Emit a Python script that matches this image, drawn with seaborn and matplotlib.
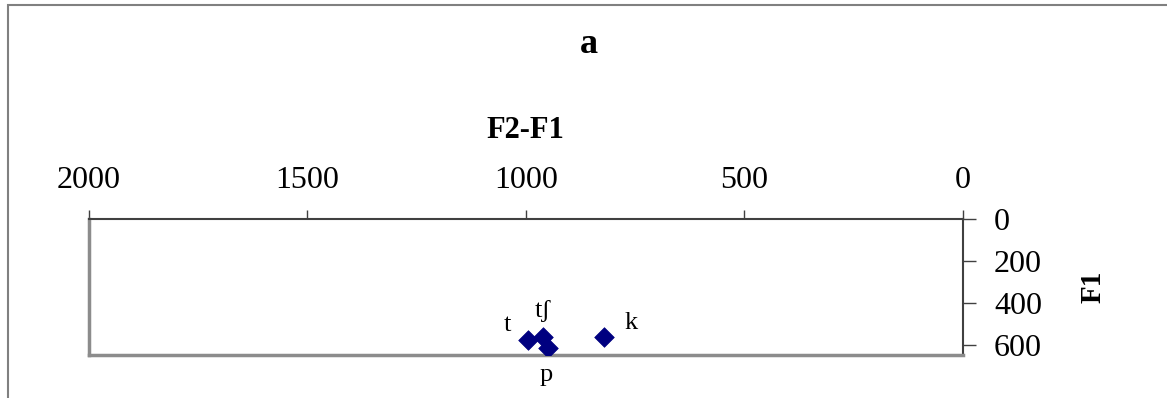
import matplotlib
matplotlib.use("Agg")
import matplotlib.pyplot as plt
import seaborn as sns
import pandas as pd
from matplotlib.patches import Rectangle

# dados (consoantes, F2-F1 e F1 em Hz)
consoantes = ["t", "tʃ", "p", "k"]
f2_f1 = [995, 960, 950, 820]
f1 = [580, 565, 618, 565]

df = pd.DataFrame({"F2-F1": f2_f1, "F1": f1, "cons": consoantes})

sns.set_style("white")
plt.rcParams["font.family"] = ["Liberation Serif", "DejaVu Serif"]
plt.rcParams["text.color"] = "black"
plt.rcParams["axes.labelcolor"] = "black"

fig = plt.figure(figsize=(11.67, 3.98), dpi=100)
ax = fig.add_axes([89 / 1167, 1 - 355 / 398, (962.7 - 89) / 1167, (355 - 219.3) / 398])

sns.scatterplot(data=df, x="F2-F1", y="F1", marker="D", s=100, color="#000080",
                edgecolor="#000080", linewidth=0.5, ax=ax, legend=False, zorder=5)

# rótulos dos pontos
desloc = {"t": (-15, 11), "tʃ": (0, 19), "p": (-1, -19), "k": (19, 10)}
for c, x, y in zip(df["cons"], df["F2-F1"], df["F1"]):
    ax.annotate(c, (x, y), xytext=desloc[c], textcoords="offset points",
                ha="center", va="center", fontsize=19, color="black")

ax.set_xlim(2000, 0)
ax.set_ylim(650, 0)
ax.set_xticks([2000, 1500, 1000, 500, 0])
ax.set_yticks([0, 200, 400, 600])

# eixo x em cima, eixo y à direita
ax.xaxis.tick_top()
ax.yaxis.tick_right()
ax.tick_params(axis="x", direction="out", length=6.5, width=1, color="#404040",
               pad=11, labelsize=23, labelcolor="black", top=True, bottom=False)
ax.tick_params(axis="y", direction="out", length=9.5, width=1, color="#404040",
               pad=13, labelsize=23, labelcolor="black", right=True, left=False)

for lado in ["top", "right"]:
    ax.spines[lado].set_color("#404040")
    ax.spines[lado].set_linewidth(1.5)
for lado in ["left", "bottom"]:
    ax.spines[lado].set_color("#8c8c8c")
    ax.spines[lado].set_linewidth(2.5)

ax.xaxis.set_label_position("top")
ax.set_xlabel("F2-F1", fontsize=22, fontweight="bold")
ax.xaxis.set_label_coords(0.5, (355 - 138) / (355 - 219.3))
ax.xaxis.label.set_va("baseline")

ax.yaxis.set_label_position("right")
ax.set_ylabel("F1", fontsize=21, fontweight="bold", rotation=90)
ax.yaxis.set_label_coords((1093 - 89) / (962.7 - 89), 0.5)
ax.yaxis.label.set_va("center")
ax.yaxis.label.set_ha("center")

fig.text(589 / 1167, 1 - 53 / 398, "a", fontsize=26, fontweight="bold",
         ha="center", va="baseline")

# borda da área do gráfico
fig.patches.append(Rectangle((8 / 1167, -0.1), 1.2, 1.1 - 5 / 398,
                             transform=fig.transFigure, fill=False,
                             edgecolor="#808080", linewidth=1.5))

fig.savefig("out.png", dpi=100)
